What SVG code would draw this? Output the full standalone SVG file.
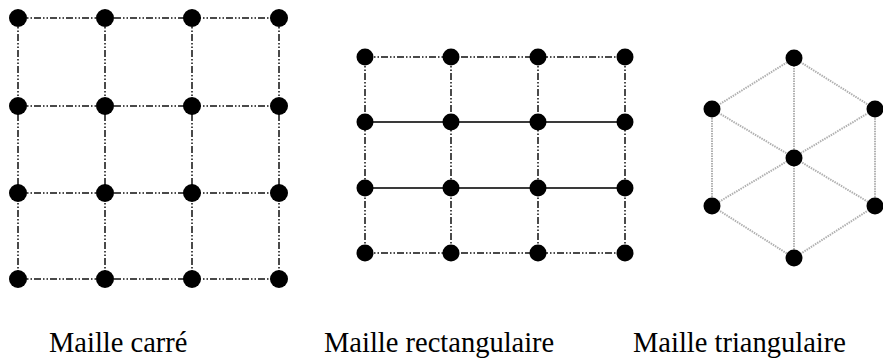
<svg xmlns="http://www.w3.org/2000/svg" width="883" height="361" viewBox="0 0 883 361">
<style>
.dd{stroke:#4a4a4a;stroke-width:2;stroke-dasharray:7 2 1.5 2 1.5 2;fill:none}
.solid{stroke:#3a3a3a;stroke-width:2;fill:none}
.tri{stroke:#b0b0b0;stroke-width:2;stroke-dasharray:1.5 1;fill:none}
.n{fill:#000}
.lbl{font-family:"Liberation Serif","Times New Roman",serif;font-size:28.5px;fill:#000}
</style>
<rect width="883" height="361" fill="#fff"/>
<g id="connectors">
  <!-- square grid -->
  <g class="dd">
    <path d="M18 18H279M18 106H279M18 193H279M18 279H279"/>
    <path d="M18 18V279M105 18V279M192 18V279M279 18V279"/>
  </g>
  <!-- rectangular grid -->
  <g class="dd">
    <path d="M365 57H625M365 253H625"/>
    <path d="M365 57V253M451 57V253M538 57V253M625 57V253"/>
  </g>
  <path class="solid" d="M365 122H625M365 188H625"/>
  <!-- triangular -->
  <path class="tri" d="M794 58L875 109L875 206L794 258L712 206L712 109Z M794 58V258 M712 109L875 206 M875 109L712 206"/>
</g>
<g id="square-lattice">
  <circle class="n" cx="18" cy="18" r="9"/><circle class="n" cx="105" cy="18" r="9"/><circle class="n" cx="192" cy="18" r="9"/><circle class="n" cx="279" cy="18" r="9"/>
  <circle class="n" cx="18" cy="106" r="9"/><circle class="n" cx="105" cy="106" r="9"/><circle class="n" cx="192" cy="106" r="9"/><circle class="n" cx="279" cy="106" r="9"/>
  <circle class="n" cx="18" cy="193" r="9"/><circle class="n" cx="105" cy="193" r="9"/><circle class="n" cx="192" cy="193" r="9"/><circle class="n" cx="279" cy="193" r="9"/>
  <circle class="n" cx="18" cy="279" r="9"/><circle class="n" cx="105" cy="279" r="9"/><circle class="n" cx="192" cy="279" r="9"/><circle class="n" cx="279" cy="279" r="9"/>
</g>
<g id="rect-lattice">
  <circle class="n" cx="365" cy="57" r="8.5"/><circle class="n" cx="451" cy="57" r="8.5"/><circle class="n" cx="538" cy="57" r="8.5"/><circle class="n" cx="625" cy="57" r="8.5"/>
  <circle class="n" cx="365" cy="122" r="8.5"/><circle class="n" cx="451" cy="122" r="8.5"/><circle class="n" cx="538" cy="122" r="8.5"/><circle class="n" cx="625" cy="122" r="8.5"/>
  <circle class="n" cx="365" cy="188" r="8.5"/><circle class="n" cx="451" cy="188" r="8.5"/><circle class="n" cx="538" cy="188" r="8.5"/><circle class="n" cx="625" cy="188" r="8.5"/>
  <circle class="n" cx="365" cy="253" r="8.5"/><circle class="n" cx="451" cy="253" r="8.5"/><circle class="n" cx="538" cy="253" r="8.5"/><circle class="n" cx="625" cy="253" r="8.5"/>
</g>
<g id="tri-lattice">
  <circle class="n" cx="794" cy="58" r="8.5"/>
  <circle class="n" cx="712" cy="109" r="8.5"/><circle class="n" cx="875" cy="109" r="8.5"/>
  <circle class="n" cx="794" cy="158" r="8.5"/>
  <circle class="n" cx="712" cy="206" r="8.5"/><circle class="n" cx="875" cy="206" r="8.5"/>
  <circle class="n" cx="794" cy="258" r="8.5"/>
</g>
<g id="labels">
  <text class="lbl" x="49" y="352">Maille carré</text>
  <text class="lbl" x="324" y="352">Maille rectangulaire</text>
  <text class="lbl" x="633" y="352">Maille triangulaire</text>
</g>
</svg>
